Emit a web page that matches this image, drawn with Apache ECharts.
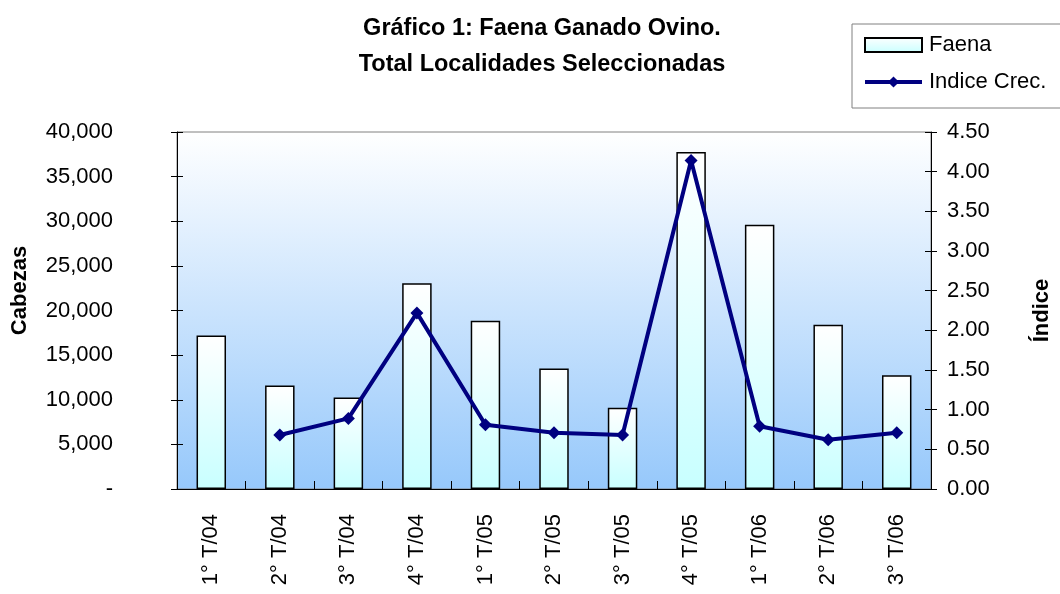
<!DOCTYPE html>
<html>
<head>
<meta charset="utf-8">
<script src="https://cdn.jsdelivr.net/npm/echarts@6/dist/echarts.min.js"></script>
<style>
    html, body { margin: 0; padding: 0; background: #fff; }
    #chart { width: 1060px; height: 594px; }
</style>
</head>
<body>
<div id="chart"></div>
<script>
var categories = ['1° T/04', '2° T/04', '3° T/04', '4° T/04', '1° T/05', '2° T/05',
    '3° T/05', '4° T/05', '1° T/06', '2° T/06', '3° T/06'];
var faena = [17200, 11600, 10250, 23050, 18850, 13500, 9100, 37750, 29600, 18400, 12750];
var indice = [null, 0.68, 0.89, 2.22, 0.81, 0.71, 0.68, 4.14, 0.79, 0.62, 0.71];

var font = '"Liberation Sans", Arial, sans-serif';

function cabezasLabel(v) {
    if (v === 0) return '-';
    return v.toString().replace(/\B(?=(\d{3})+(?!\d))/g, ',');
}

var chart = echarts.init(document.getElementById('chart'));
var option = {
    animation: false,
    textStyle: {fontFamily: font},
    title: {
        text: 'Gráfico 1: Faena Ganado Ovino.\nTotal Localidades Seleccionadas',
        left: 537,
        top: 6,
        textAlign: 'center',
        textStyle: {fontSize: 23.5, fontWeight: 'bold', color: '#000', lineHeight: 36, fontFamily: font}
    },
    legend: {
        orient: 'vertical',
        left: 852,
        top: 24,
        padding: [10, 24, 15, 11],
        itemGap: 15,
        itemWidth: 57,
        itemHeight: 14,
        backgroundColor: '#fff',
        borderColor: '#808080',
        borderWidth: 1,
        textStyle: {fontSize: 22, color: '#000', padding: [0, 0, 0, 2], fontFamily: font},
        data: [
            {name: 'Faena', icon: 'rect'},
            {name: 'Indice Crec.', lineStyle: {width: 4, color: '#000080'}}
        ]
    },
    grid: {
        left: 177,
        right: 129,
        top: 132,
        bottom: 105,
        outerBoundsMode: 'none',
        show: true,
        borderColor: '#808080',
        borderWidth: 1,
        backgroundColor: {
            type: 'linear', x: 0, y: 0, x2: 0, y2: 1,
            colorStops: [{offset: 0, color: '#ffffff'}, {offset: 1, color: '#96c8fb'}]
        }
    },
    xAxis: [{
        type: 'category',
        data: categories,
        axisLine: {lineStyle: {color: '#000', width: 1}},
        axisTick: {length: 8, lineStyle: {color: '#000'}},
        axisLabel: {rotate: 90, margin: 25, fontSize: 22, color: '#000', fontFamily: font}
    }, {
        type: 'category',
        data: categories,
        position: 'bottom',
        axisLine: {show: false},
        axisTick: {show: true, inside: true, length: 8, lineStyle: {color: '#000'}},
        axisLabel: {show: false}
    }],
    yAxis: [{
        type: 'value',
        min: 0,
        max: 40000,
        interval: 5000,
        name: 'Cabezas',
        nameLocation: 'middle',
        nameRotate: 90,
        nameGap: 146,
        nameTextStyle: {fontSize: 22, fontWeight: 'bold', color: '#000', padding: [0, 0, 0, 40], fontFamily: font},
        axisLine: {show: true, lineStyle: {color: '#000'}},
        axisTick: {show: true, length: 6, lineStyle: {color: '#000'}},
        axisLabel: {margin: 64, fontSize: 22, color: '#000', formatter: cabezasLabel, fontFamily: font},
        splitLine: {show: false}
    }, {
        type: 'value',
        min: 0,
        max: 4.5,
        interval: 0.5,
        name: 'Índice',
        nameLocation: 'middle',
        nameRotate: 90,
        nameGap: 100,
        nameTextStyle: {fontSize: 22, fontWeight: 'bold', color: '#000', fontFamily: font},
        axisLine: {show: true, lineStyle: {color: '#000'}},
        axisTick: {show: true, length: 6, lineStyle: {color: '#000'}},
        axisLabel: {margin: 16, fontSize: 22, color: '#000', formatter: function (v) { return v.toFixed(2); }, fontFamily: font},
        splitLine: {show: false}
    }, {
        type: 'value',
        position: 'left',
        min: 0,
        max: 40000,
        interval: 5000,
        axisLine: {show: false},
        axisTick: {show: true, inside: true, length: 6, lineStyle: {color: '#000'}},
        axisLabel: {show: false},
        splitLine: {show: false}
    }, {
        type: 'value',
        position: 'right',
        min: 0,
        max: 4.5,
        interval: 0.5,
        axisLine: {show: false},
        axisTick: {show: true, inside: true, length: 6, lineStyle: {color: '#000'}},
        axisLabel: {show: false},
        splitLine: {show: false}
    }],
    series: [{
        name: 'Faena',
        type: 'bar',
        barWidth: '43%',
        data: faena,
        itemStyle: {
            color: {
                type: 'linear', x: 0, y: 0, x2: 0, y2: 1,
                colorStops: [{offset: 0, color: '#ffffff'}, {offset: 1, color: '#c8ffff'}]
            },
            borderColor: '#000',
            borderWidth: 1.5
        }
    }, {
        name: 'Indice Crec.',
        type: 'line',
        yAxisIndex: 1,
        data: indice,
        symbol: 'diamond',
        symbolSize: 13,
        lineStyle: {color: '#000080', width: 4},
        itemStyle: {color: '#000080'}
    }]
};
chart.setOption(option);
</script>
</body>
</html>
